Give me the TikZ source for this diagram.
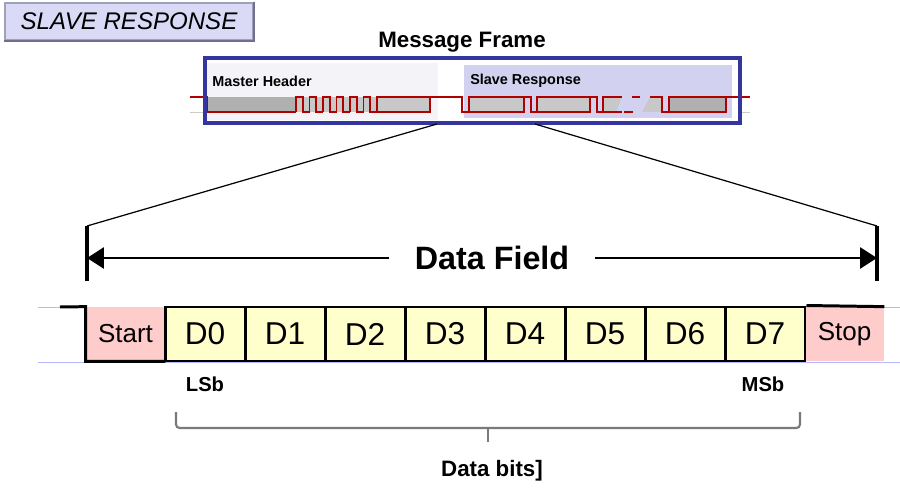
\documentclass[tikz,border=0pt]{standalone}
\usepackage{fontspec}
\setmainfont{Liberation Sans}
\usetikzlibrary{arrows.meta}
\definecolor{sigred}{HTML}{B00000}
\definecolor{frameblue}{HTML}{3535A0}
\definecolor{slavebg}{HTML}{D2D2F0}
\definecolor{masterbg}{HTML}{F4F4F8}
\definecolor{titlefill}{HTML}{DADAF6}
\definecolor{bitpink}{HTML}{FFCCCC}
\definecolor{bityellow}{HTML}{FFFFCC}
\definecolor{bytegray}{HTML}{C8C8C8}
\definecolor{bytedark}{HTML}{B0B0B0}
\definecolor{faintline}{HTML}{B8B8FF}
\definecolor{titleedge}{HTML}{A0A0B8}
\definecolor{titleshade}{HTML}{70708A}
\definecolor{bracegray}{HTML}{7A7A7A}

\begin{document}
\begin{tikzpicture}[x=0.02cm,y=-0.02cm,
    sig/.style={sigred,line width=0.9pt},
    bytebox/.style={fill=bytegray,draw=sigred,line width=0.9pt},
    bitbox/.style={draw,line width=1.7pt,fill=bityellow,minimum width=1.6cm,
      minimum height=1.08cm,inner sep=0pt,font=\fontsize{18}{20}\selectfont},
    endbit/.style={fill=bitpink,minimum width=1.58cm,minimum height=1.08cm,
      inner sep=0pt,font=\fontsize{14.8}{16}\selectfont},
    bold lbl/.style={font=\bfseries\fontsize{#1}{#1}\selectfont}]
    % Page
    \fill[white] (0,0) rectangle (900,500);
    \useasboundingbox (0,0) rectangle (900,500);

    % The title button
    \node[draw=titleedge,line width=1.4pt,fill=titlefill,
      minimum width=4.96cm,minimum height=0.74cm,
      font=\itshape\fontsize{13.7}{15}\selectfont] (title) at (129,21.5) {SLAVE RESPONSE};
    \draw[titleshade,line width=1.4pt]
      (title.north east) -- (title.south east) -- (title.south west);

    % The message frame
    \node[bold lbl=12.7] (msgframe) at (462,42) {Message Frame};
    \fill[masterbg] (207,63) rectangle (438,120);
    \fill[slavebg] (464,65) rectangle (732,118);
    \node[bold lbl=8.2,anchor=west,inner sep=0pt] (mhead) at (212,81) {Master Header};
    \node[bold lbl=8.2,anchor=west,inner sep=0pt] (sresp) at (470,81) {Slave Response};
    \draw[gray!40] (190,112) -- (206,112);
    \draw[gray!40] (740,112) -- (750,112);

    % The header signal
    \fill[bytedark] (207,97) rectangle (296,112);
    \fill[bytegray] (296,97) rectangle (377,112);
    \draw[sig] (190,97) -- (207,97) -- (207,112) -- (296,112);
    \foreach \k in {0,...,5}
      \draw[sig] ({296+13.5*\k},112) -- ({296+13.5*\k},97) -- ({302.75+13.5*\k},97)
        -- ({302.75+13.5*\k},112) -- ({309.5+13.5*\k},112);
    \draw[bytebox] (377,97) rectangle (430,112);

    % The response signal
    \draw[sig] (430,97) -- (462,97) -- (462,112) -- (469,112);
    \draw[bytebox] (469,97) rectangle (524,112);
    \draw[sig] (524,97) -- (531,97) -- (531,112) -- (537,112);
    \draw[bytebox] (537,97) rectangle (590,112);
    \draw[sig] (590,97) -- (597,97) -- (597,112) -- (603,112);
    \fill[bytegray] (603,97) -- (622,97) -- (616,112) -- (603,112) -- cycle;
    \draw[sig] (603,112) -- (603,97) -- (622,97);
    \draw[sig] (603,112) -- (622,112);
    \draw[sig] (632,97) -- (640,97);
    \draw[sig] (624,112) -- (633,112);
    \fill[bytegray] (650,97) -- (662,97) -- (662,112) -- (642,112) -- cycle;
    \draw[sig] (650,97) -- (662,97) -- (662,112) -- (669,112);
    \draw[bytebox,fill=bytedark] (669,97) rectangle (726,112);
    \draw[sig] (726,97) -- (750,97);

    \draw[frameblue,line width=2.2pt] (205,58) rectangle (740,123);
    \coordinate (fleft) at (437,124);
    \coordinate (fright) at (535,124);

    % The data field span
    \coordinate (lbartop) at (87,226);
    \coordinate (lbarbot) at (87,281);
    \coordinate (rbartop) at (877,226);
    \coordinate (rbarbot) at (877,281);
    \coordinate (lbar) at (87,258);
    \coordinate (rbar) at (877,258);
    \draw[line width=0.7pt] (fleft) -- (lbartop);
    \draw[line width=0.7pt] (fright) -- (rbartop);
    \draw[line width=1.9pt] (lbartop) -- (lbarbot);
    \draw[line width=1.9pt] (rbartop) -- (rbarbot);
    \node[bold lbl=18.4,inner xsep=0.5cm] (dfield) at (492,258) {Data Field};
    \draw[line width=1.7pt,-{Triangle[length=0.34cm,width=0.42cm]}] (dfield.west) -- (lbar);
    \draw[line width=1.7pt,-{Triangle[length=0.34cm,width=0.42cm]}] (dfield.east) -- (rbar);

    % The byte on the wire
    \draw[faintline,line width=0.4pt] (38,307) -- (900,307);
    \draw[faintline,line width=0.4pt] (38,362) -- (900,362);
    \node[endbit] (start) at (125.5,334) {Start};
    \node[endbit] (stop) at (844.5,334) {Stop};
    \coordinate (idle) at (60,307);
    \draw[line width=1.7pt] (idle) -- (start.north west) -- (start.south west) -- (start.south east);
    \foreach \i in {0,...,7}
      \node[bitbox] (d\i) at ({205+80*\i},334) {D\i};
    \draw[line width=1.7pt] (d7.north east) -- (stop.north east);

    % The bit order
    \node[bold lbl=11.5] (lsb) at (205,384) {LSb};
    \node[bold lbl=11.5] (msb) at (763,384) {MSb};
    \draw[bracegray,line width=1.2pt,rounded corners=2pt]
      (176,412) -- (176,428) -- (800,428) -- (800,412);
    \draw[bracegray,line width=1.2pt] (488,428) -- (488,442);
    \node[bold lbl=12.7] (dbits) at (492,471) {Data bits]};
\end{tikzpicture}
\end{document}
